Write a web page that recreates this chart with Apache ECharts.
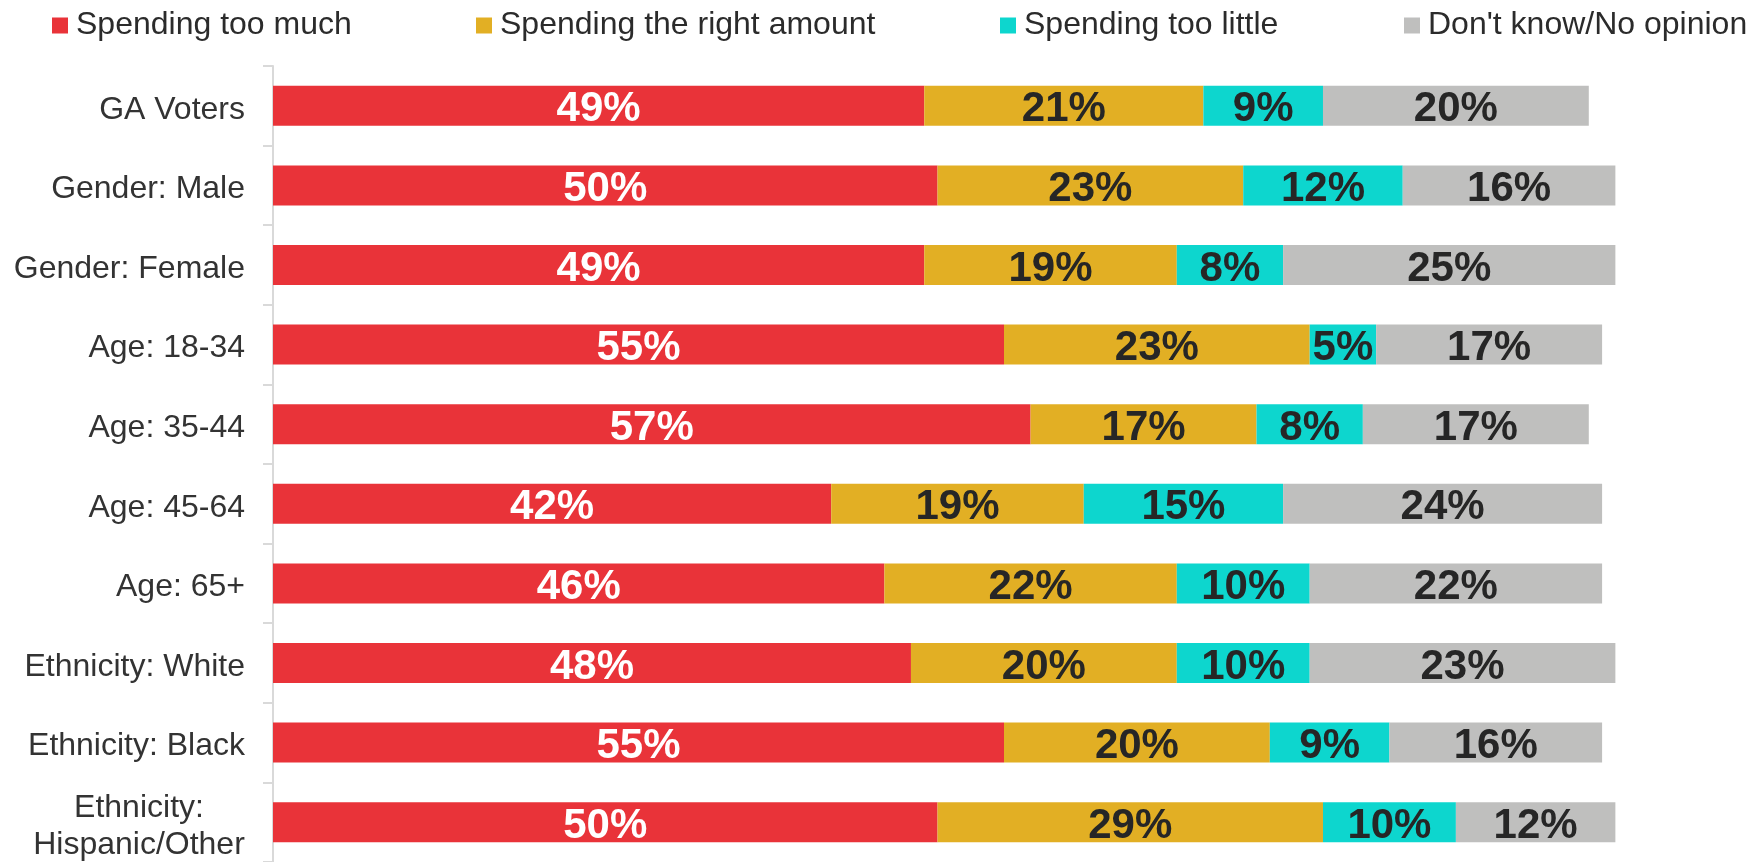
<!DOCTYPE html>
<html>
<head>
<meta charset="utf-8">
<script src="https://cdn.jsdelivr.net/npm/echarts@6/dist/echarts.min.js"></script>
<style>
  html, body { margin: 0; padding: 0; background: #fff; }
  #chart { width: 1753px; height: 862px; }
</style>
</head>
<body>
<div id="chart"></div>
<script>
var categories = ['GA Voters', 'Gender: Male', 'Gender: Female', 'Age: 18-34', 'Age: 35-44',
    'Age: 45-64', 'Age: 65+', 'Ethnicity: White', 'Ethnicity: Black', 'Ethnicity:\nHispanic/Other'];
var seriesNames = ['Spending too much', 'Spending the right amount', 'Spending too little', "Don't know/No opinion"];
var tooMuch   = [49, 50, 49, 55, 57, 42, 46, 48, 55, 50];
var rightAmt  = [21, 23, 19, 23, 17, 19, 22, 20, 20, 29];
var tooLittle = [9, 12, 8, 5, 8, 15, 10, 10, 9, 10];
var dontKnow  = [20, 16, 25, 17, 17, 24, 22, 23, 16, 12];

var colors = ['#e93339', '#e2af24', '#0dd6ce', '#bfbfbe'];
var labelColors = ['#ffffff', '#262626', '#262626', '#262626'];
var values = [tooMuch, rightAmt, tooLittle, dontKnow];
var legendLeft = [52, 476, 1000, 1404];

var chart = echarts.init(document.getElementById('chart'));

var legends = seriesNames.map(function (name, i) {
    return {
        data: [name],
        left: legendLeft[i],
        top: 8,
        padding: 0,
        icon: 'rect',
        itemWidth: 16,
        itemHeight: 16,
        selectedMode: false,
        textStyle: {
            fontFamily: 'Liberation Sans',
            fontSize: 32,
            lineHeight: 32,
            color: '#2b2b2b',
            padding: [3, 0, 0, 3]
        }
    };
});

var series = seriesNames.map(function (name, i) {
    return {
        name: name,
        type: 'bar',
        stack: 'total',
        barWidth: 40,
        itemStyle: { color: colors[i] },
        label: {
            show: true,
            position: 'inside',
            offset: [0, 4],
            formatter: '{c}%',
            fontFamily: 'Liberation Sans',
            fontWeight: 'bold',
            fontSize: 42,
            color: labelColors[i]
        },
        data: values[i]
    };
});

var option = {
    animation: false,
    color: colors,
    legend: legends,
    grid: {
        left: 273,
        right: 18,
        top: 66,
        height: 802
    },
    xAxis: {
        type: 'value',
        min: 0,
        max: 110,
        show: false
    },
    yAxis: {
        type: 'category',
        inverse: true,
        data: categories,
        axisLine: { show: true, lineStyle: { color: '#d9d9d9', width: 2 } },
        axisTick: { show: true, length: 10, lineStyle: { color: '#d9d9d9', width: 2 } },
        axisLabel: {
            margin: 28,
            padding: [8, 0, 0, 0],
            fontFamily: 'Liberation Sans',
            fontSize: 32,
            color: '#333333',
            formatter: function (v) {
                if (v.indexOf('\n') >= 0) {
                    return v.split('\n').map(function (s) { return '{c|' + s + '}'; }).join('\n');
                }
                return v;
            },
            rich: {
                c: {
                    width: 212,
                    align: 'center',
                    fontFamily: 'Liberation Sans',
                    fontSize: 32,
                    lineHeight: 37,
                    color: '#333333'
                }
            }
        }
    },
    series: series
};

chart.setOption(option);
</script>
</body>
</html>
